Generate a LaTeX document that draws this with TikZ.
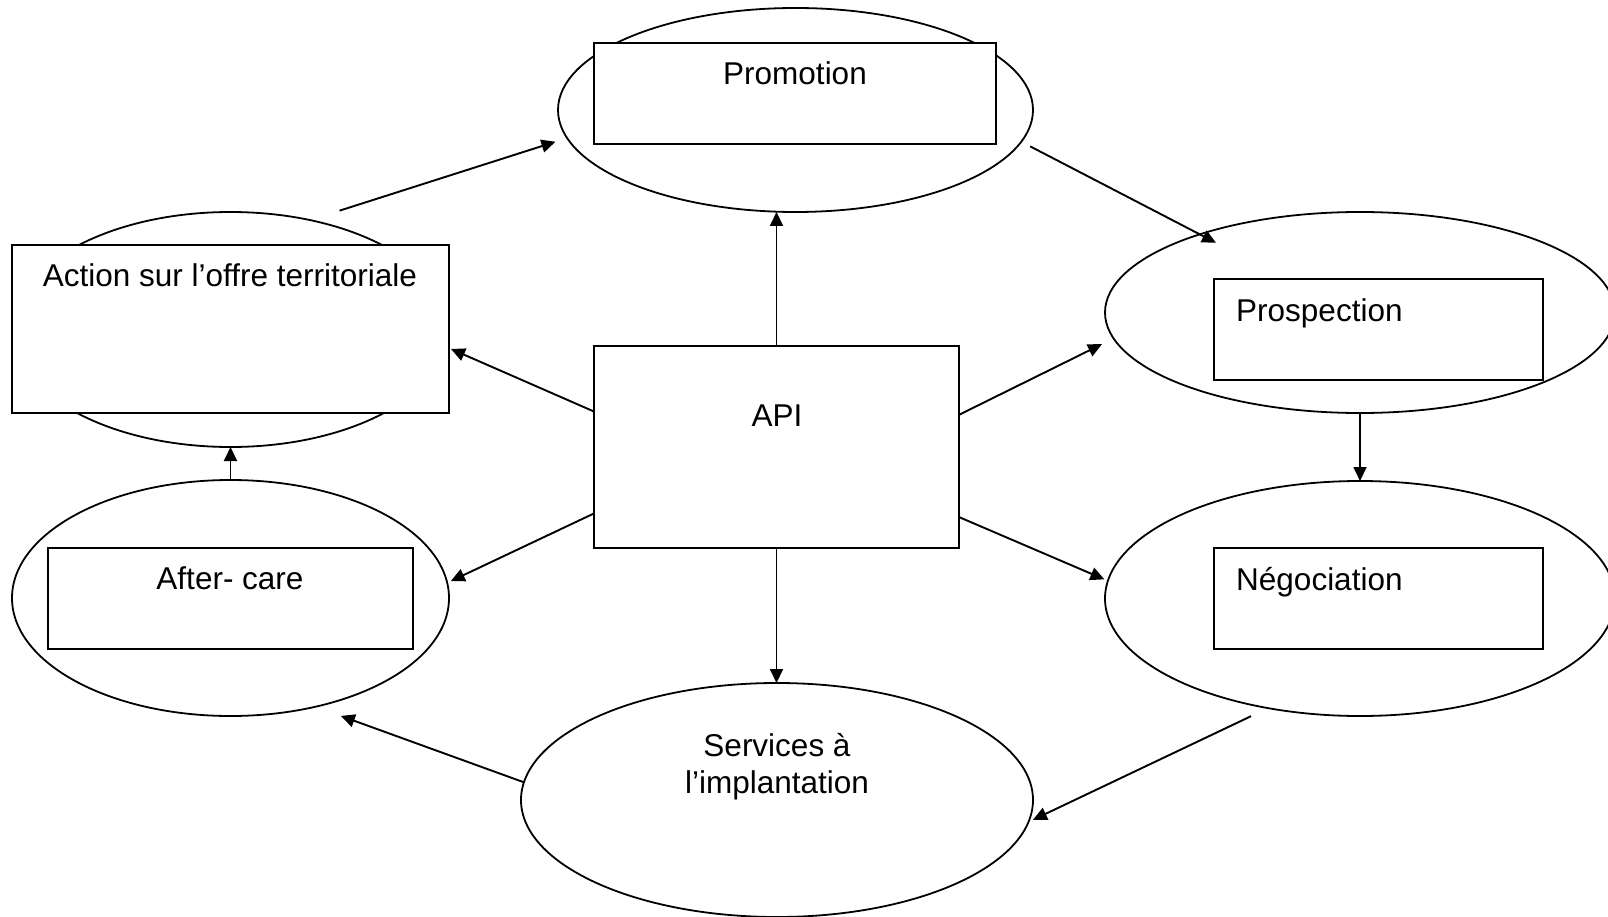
\documentclass[tikz,border=0pt]{standalone}
\usepackage{fontspec}
\setmainfont{Liberation Sans}
\usetikzlibrary{shapes.geometric,arrows.meta}
\begin{document}
\begin{tikzpicture}[x=1pt,y=-1pt,
  oval/.style={draw,ellipse,inner sep=0pt,outer sep=0pt,line width=1.8pt},
  box/.style={draw,rectangle,fill=white,inner sep=0pt,outer sep=0pt,line width=2pt},
  lbl/.style={font=\fontsize{31.5}{37}\selectfont,inner sep=0pt,anchor=base},
  lblw/.style={lbl,anchor=base west},
  arr/.style={line width=1.9pt,-{Triangle[length=14pt,width=13pt]}}]
\useasboundingbox (0,0) rectangle (1608,917);

% outer ellipses
\node[oval,minimum width=475pt,minimum height=204pt] (promoE) at (795.5,110) {};
\node[oval,minimum width=436pt,minimum height=235pt] (actE) at (230.5,329.5) {};
\node[oval,minimum width=510pt,minimum height=201pt] (prospE) at (1360,312.5) {};
\node[oval,minimum width=510pt,minimum height=235pt] (negoE) at (1360,598.5) {};
\node[oval,minimum width=437pt,minimum height=236pt] (afterE) at (230.5,598) {};
\node[oval,minimum width=512pt,minimum height=234pt] (servE) at (777,800) {};

% inner boxes
\node[box,minimum width=402pt,minimum height=101pt] (promoR) at (795,93.5) {};
\node[box,minimum width=437pt,minimum height=168pt] (actR) at (230.5,329) {};
\node[box,minimum width=329pt,minimum height=101pt] (prospR) at (1378.5,329.5) {};
\node[box,minimum width=329pt,minimum height=101pt] (negoR) at (1378.5,598.5) {};
\node[box,minimum width=365pt,minimum height=101pt] (afterR) at (230.5,598.5) {};
\node[box,minimum width=365pt,minimum height=202pt] (api) at (776.5,447) {};

% labels
\node[lbl] (tPromo) at (795,85) {Promotion};
\node[lbl] (tAct) at (230,287) {Action sur l’offre territoriale};
\node[lblw] (tProsp) at (1236,321) {Prospection};
\node[lblw] (tNego) at (1236,590) {Négociation};
\node[lbl] (tAfter) at (230,589) {After- care};
\node[lbl] (tApi) at (777,426) {API};
\node[lbl] (tServA) at (777,756) {Services à};
\node[lbl] (tServB) at (777,793) {l’implantation};

% cycle connectors
\draw[arr,shorten <=31pt,shorten >=12.3pt] (actE.54) -- (promoE.187.6);
\draw[arr,shorten <=10pt,shorten >=-18.3pt] (promoE.352.7) -- (prospE.154.6);
\draw[arr] (prospE.south) -- (negoE.north);
\draw[arr,shorten <=18.8pt,shorten >=5pt] (negoE.230) -- (servE.355.9);
\draw[arr,shorten >=27pt] (servE.176.1) -- (afterE.308);
\draw[arr] (afterE.north) -- (actE.south);

% connectors from API
\draw[arr] (api.north) -- (api.north |- promoE.south);
\draw[arr] (api.south) -- (api.south |- servE.north);
\draw[arr,shorten >=13pt] (api.10.55) -- (prospE.186.8);
\draw[arr,shorten >=3.8pt] (api.339.8) -- (negoE.176.4);
\draw[arr,shorten >=2.2pt] (api.169.45) -- (actR.355.3);
\draw[arr,shorten >=4pt] (api.200.2) -- (afterE.4.0);
\end{tikzpicture}
\end{document}
